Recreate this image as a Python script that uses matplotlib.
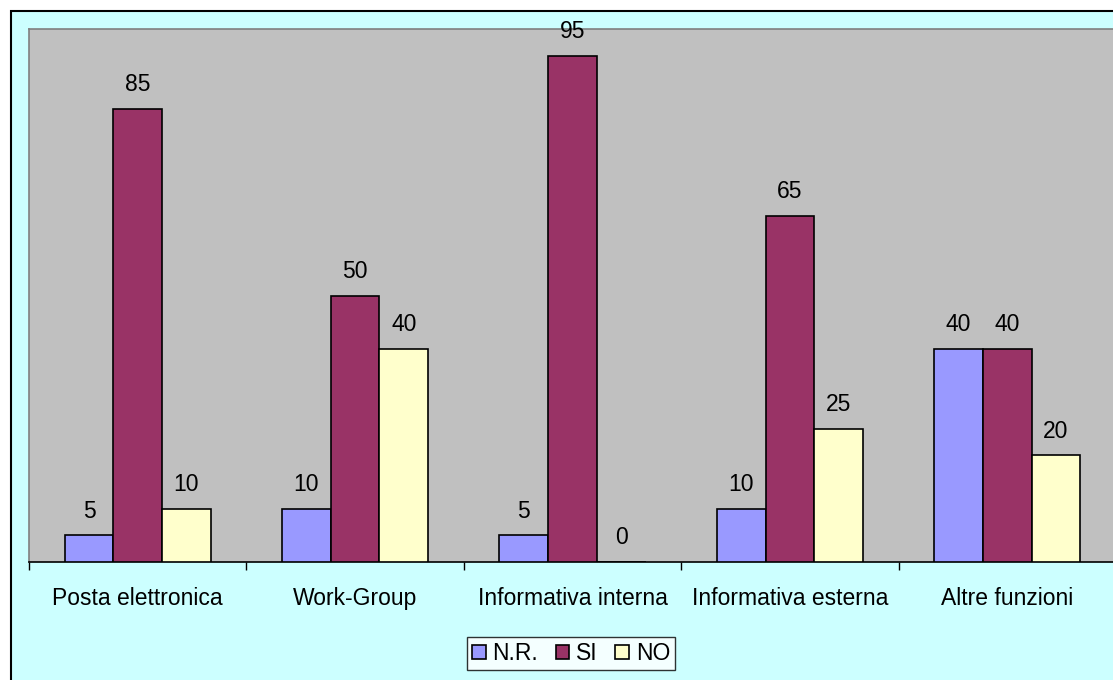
import matplotlib
matplotlib.use("Agg")
import matplotlib.pyplot as plt
from matplotlib.patches import Rectangle
import numpy as np

plt.rcParams['font.family'] = ['Liberation Sans', 'DejaVu Sans']

categories = ["Posta elettronica", "Work-Group", "Informativa interna",
              "Informativa esterna", "Altre funzioni"]
series_names = ["N.R.", "SI", "NO"]
nr_values = [5, 10, 5, 10, 40]
si_values = [85, 50, 95, 65, 40]
no_values = [10, 40, 0, 25, 20]
colors = ["#9999FF", "#993366", "#FFFFCC"]

W, H = 1113, 680
FS = 16.5
fig = plt.figure(figsize=(W / 100, H / 100), dpi=100, facecolor="white")

# chart area background with a black frame (continues past the right/bottom edge)
fig.patches.append(Rectangle((11 / W, -0.05), 1.2, 1 - 11 / H + 0.05,
                             transform=fig.transFigure, facecolor="#CCFFFF",
                             edgecolor="black", linewidth=1.5, zorder=-5))

ax = fig.add_axes([29 / W, (H - 562) / H, (1116 - 29) / W, (562 - 29) / H])
ax.set_zorder(2)
ax.set_facecolor("#C0C0C0")

x = np.arange(len(categories))
width = 0.224
for k, (vals, name, col) in enumerate(zip([nr_values, si_values, no_values],
                                          series_names, colors)):
    pos = x + (k - 1) * width
    ax.bar(pos, vals, width, color=col, edgecolor="black",
           linewidth=1.2, label=name, zorder=3)
    for xp, v in zip(pos, vals):
        ax.annotate(f"{v}", (xp, v), xytext=(0, 9), textcoords="offset points",
                    ha="center", va="bottom", fontsize=FS, color="black")

ax.set_xlim(-0.5, len(categories) - 0.5)
ax.set_ylim(0, 100)
ax.set_yticks([])

ax.set_xticks(x)
ax.set_xticklabels(categories, fontsize=FS)
ax.tick_params(axis="x", which="major", length=0, pad=18)
ax.set_xticks(np.arange(-0.5, len(categories)), minor=True)
ax.tick_params(axis="x", which="minor", length=6, width=1, color="black",
               direction="out")

for side in ["left", "top", "right"]:
    ax.spines[side].set_color("#808080")
    ax.spines[side].set_linewidth(1.2)
ax.spines["bottom"].set_color("black")
ax.spines["bottom"].set_linewidth(1.2)

leg = fig.legend(loc="center", bbox_to_anchor=(571 / W, 1 - 653.5 / H),
                 ncol=3, frameon=True, fancybox=False, fontsize=FS,
                 handlelength=0.6, handleheight=0.6, handletextpad=0.3,
                 columnspacing=0.75, borderpad=0.2, borderaxespad=0.0,
                 edgecolor="black")
leg.get_frame().set_linewidth(1.0)
leg.get_frame().set_facecolor("white")
leg.set_zorder(3)

fig.savefig("out.png", dpi=100, facecolor=fig.get_facecolor())
